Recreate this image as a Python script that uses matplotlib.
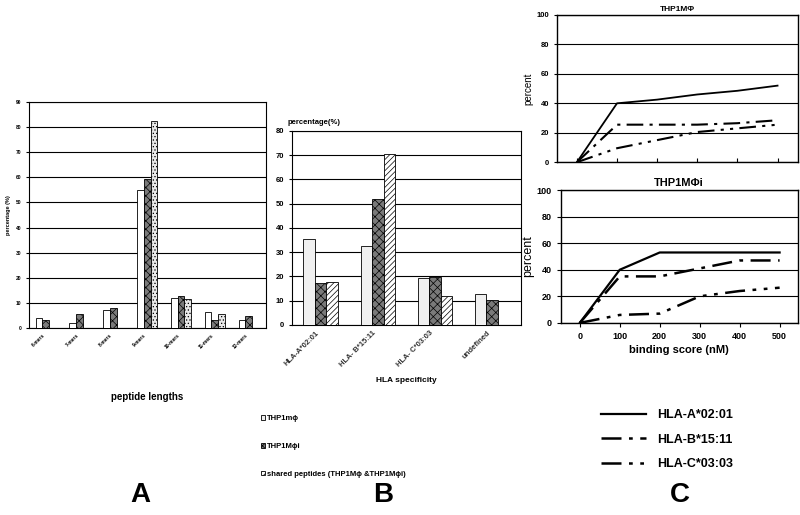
import numpy as np
import matplotlib
matplotlib.use('Agg')
import matplotlib.pyplot as plt

plt.rcParams['font.family'] = ['Liberation Sans', 'DejaVu Sans']
plt.rcParams['hatch.color'] = 'black'
plt.rcParams['hatch.linewidth'] = 0.5

# Panel A: peptide lengths
len_cats = ['6-mers', '7-mers', '8-mers', '9-mers', '10-mers', '11-mers', '12-mers']
len_mphi = [4.0, 2.0, 7.0, 55.0, 12.0, 6.5, 3.2]
len_mphii = [3.3, 5.7, 8.0, 59.5, 12.8, 3.3, 4.6]
len_shared = [0, 0, 0, 82.5, 11.7, 5.7, 0]

# Panel B: HLA specificity
hla_cats = ['HLA-A*02:01', 'HLA- B*15:11', 'HLA- C*03:03', 'undefined']
hla_mphi = [35.3, 32.5, 19.3, 12.8]
hla_mphii = [17.3, 52.0, 19.7, 10.3]
hla_shared = [17.6, 70.5, 11.8, 0]

# Panel C: binding score curves
score = [0, 100, 200, 300, 400, 500]
top_a = [0, 40, 42.5, 46, 48.5, 52]
top_b = [0, 25.5, 25.5, 25.5, 26.5, 28.5]
top_c = [0, 9.5, 15, 20.5, 23, 25.5]
bot_a = [0, 40, 53, 53, 53, 53]
bot_b = [0, 35, 35, 41, 47, 47]
bot_c = [0, 6, 7, 20, 24, 26.5]
allele_names = ['HLA-A*02:01', 'HLA-B*15:11', 'HLA-C*03:03']

style_b = (0, (8, 3, 1.5, 3))
style_c = (0, (8, 3, 1.5, 3, 1.5, 3))

fig = plt.figure(figsize=(8, 5.15), dpi=100)

# ---------- A ----------
axA = fig.add_axes([0.036, 0.363, 0.296, 0.439])
x = np.arange(len(len_cats)) + 0.5
w = 0.2
axA.bar(x - w, len_mphi, w, color='white', edgecolor='black', linewidth=0.6, zorder=3)
axA.bar(x, len_mphii, w, color='#7a7a7a', edgecolor='black', linewidth=0.6, hatch='xxxx', zorder=3)
axA.bar(x + w, len_shared, w, color='#e8e8e8', edgecolor='black', linewidth=0.6, hatch='.....', zorder=3)
axA.set_xlim(0, 7)
axA.set_ylim(0, 90)
axA.set_yticks(range(0, 91, 10))
axA.yaxis.grid(True, color='black', linewidth=0.8)
axA.set_axisbelow(True)
axA.set_xticks(x)
axA.set_xticklabels(len_cats, rotation=45, ha='right', fontsize=3.5, fontweight='bold')
axA.tick_params(axis='y', labelsize=3.5, length=2)
axA.tick_params(axis='x', length=0)
for t in axA.get_yticklabels():
    t.set_fontweight('bold')
axA.set_ylabel('percentage (%)', fontsize=4, fontweight='bold')
axA.yaxis.set_label_coords(-0.075, 0.5)
axA.set_xlabel('peptide lengths', fontsize=7, fontweight='bold', labelpad=30)
for s in axA.spines.values():
    s.set_linewidth(0.8)

# ---------- B ----------
axB = fig.add_axes([0.365, 0.369, 0.286, 0.377])
xb = np.arange(len(hla_cats)) + 0.5
b1 = axB.bar(xb - w, hla_mphi, w, color='#f0f0f0', edgecolor='black', linewidth=0.6, zorder=3)
b2 = axB.bar(xb, hla_mphii, w, color='#7a7a7a', edgecolor='black', linewidth=0.6, hatch='xxxx', zorder=3)
b3 = axB.bar(xb + w, hla_shared, w, color='white', edgecolor='black', linewidth=0.6, hatch='//////', zorder=3)
axB.set_xlim(0, 4)
axB.set_ylim(0, 80)
axB.set_yticks(range(0, 81, 10))
axB.yaxis.grid(True, color='black', linewidth=0.8)
axB.set_axisbelow(True)
axB.set_xticks(xb)
axB.set_xticklabels(hla_cats, rotation=45, ha='right', fontsize=5.5, fontweight='bold', color='#333333')
axB.tick_params(axis='y', labelsize=5.5, length=2)
axB.tick_params(axis='x', length=0)
for t in axB.get_yticklabels():
    t.set_fontweight('bold')
axB.set_xlabel('HLA specificity', fontsize=6, fontweight='bold', labelpad=6)
axB.text(-0.02, 1.035, 'percentage(%)', transform=axB.transAxes, fontsize=5.5, fontweight='bold')
for s in axB.spines.values():
    s.set_linewidth(0.8)
fig.legend([b1, b2, b3],
           ['THP1m\u03d5', 'THP1M\u03d5i', 'shared peptides (THP1M\u03d5 &THP1M\u03d5i)'],
           loc='upper left', bbox_to_anchor=(0.322, 0.2), frameon=False,
           prop={'size': 5.5, 'weight': 'bold'}, handlelength=0.6, handleheight=0.6,
           handletextpad=0.2, labelspacing=2.7, borderaxespad=0)

# ---------- C top ----------
axC1 = fig.add_axes([0.696, 0.685, 0.301, 0.286])
axC1.plot(score, top_a, color='black', linewidth=1.3)
axC1.plot(score, top_b, color='black', linewidth=1.5, linestyle=style_b)
axC1.plot(score, top_c, color='black', linewidth=1.5, linestyle=style_c)
axC1.set_xlim(-50, 550)
axC1.set_ylim(0, 100)
axC1.set_yticks(range(0, 101, 20))
axC1.set_xticks(score)
axC1.set_xticklabels([])
axC1.yaxis.grid(True, color='black', linewidth=0.8)
axC1.tick_params(axis='y', labelsize=5.5, length=2)
axC1.tick_params(axis='x', length=3, direction='in')
for t in axC1.get_yticklabels():
    t.set_fontweight('bold')
axC1.set_ylabel('percent', fontsize=7, labelpad=2)
axC1.set_title('THP1M\u03a6', fontsize=6, fontweight='bold', pad=3)

# ---------- C bottom ----------
axC2 = fig.add_axes([0.701, 0.373, 0.296, 0.258])
la, = axC2.plot(score, bot_a, color='black', linewidth=1.6)
lb, = axC2.plot(score, bot_b, color='black', linewidth=1.8, linestyle=style_b)
lc, = axC2.plot(score, bot_c, color='black', linewidth=1.8, linestyle=style_c)
axC2.set_xlim(-47.5, 545)
axC2.set_ylim(0, 100)
axC2.set_yticks(range(0, 101, 20))
axC2.set_xticks(score)
axC2.yaxis.grid(True, color='black', linewidth=0.8)
axC2.tick_params(labelsize=6.5, length=3)
for t in axC2.get_yticklabels() + axC2.get_xticklabels():
    t.set_fontweight('bold')
axC2.set_ylabel('percent', fontsize=9, labelpad=2)
axC2.set_xlabel('binding score (nM)', fontsize=8, fontweight='bold', labelpad=3)
axC2.set_title('THP1M\u03a6i', fontsize=8, fontweight='bold', pad=3)
for s in list(axC2.spines.values()) + list(axC1.spines.values()):
    s.set_linewidth(1.0)

fig.legend([la, lb, lc], allele_names, loc='upper left',
           bbox_to_anchor=(0.745, 0.215), frameon=False,
           prop={'size': 9, 'weight': 'bold'}, handlelength=3.6,
           handletextpad=0.9, labelspacing=1.0, borderaxespad=0)

# panel letters
fig.text(140 / 800, 1 - 495 / 515, 'A', fontsize=20, fontweight='bold', ha='center', va='center')
fig.text(383 / 800, 1 - 495 / 515, 'B', fontsize=20, fontweight='bold', ha='center', va='center')
fig.text(680 / 800, 1 - 495 / 515, 'C', fontsize=20, fontweight='bold', ha='center', va='center')

fig.savefig('out.png', dpi=100)
